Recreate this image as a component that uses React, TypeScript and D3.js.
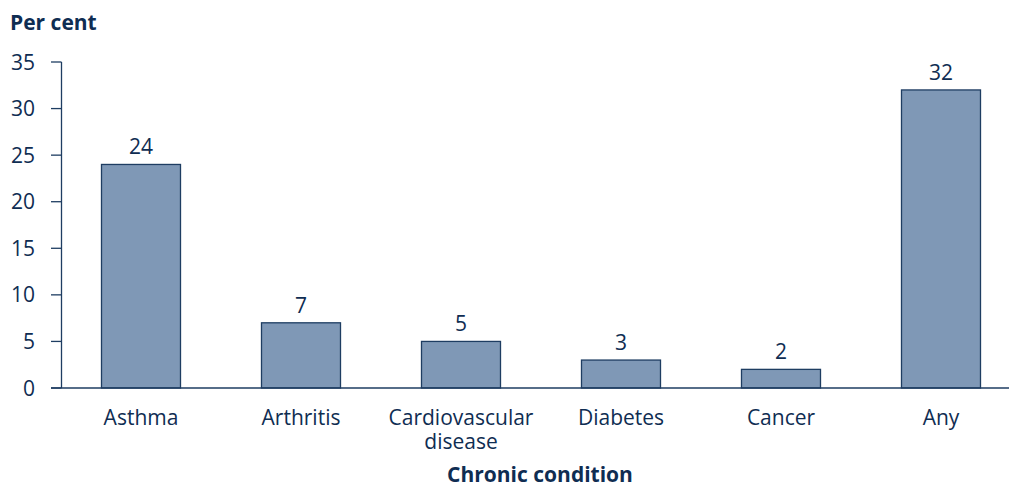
import React from "react";
import * as d3 from "d3";

const categories = ["Asthma", "Arthritis", "Cardiovascular\ndisease", "Diabetes", "Cancer", "Any"];
const values = [24, 7, 5, 3, 2, 32];
const yTicks = [0, 5, 10, 15, 20, 25, 30, 35];

const W = 1009;
const H = 487;
const textColor = "#0f2d52";
const font = "'Open Sans', 'Noto Sans', sans-serif";

export default function App() {
  const x = d3.scaleBand<string>().domain(categories).range([61, 1021]).paddingInner(0.5).paddingOuter(0.25);
  const y = d3.scaleLinear().domain([0, 35]).range([388, 62]);
  return (
    <svg width={W} height={H} style={{ position: "absolute", left: 0, top: 0, background: "#fff" }} fontFamily={font}>
      <text x={10} y={30} fontSize={21} fontWeight="bold" fill={textColor}>Per cent</text>
      {categories.map((c, i) => {
        const cx = x(c)! + x.bandwidth() / 2;
        return (
          <g key={c}>
            <rect x={x(c)! + 0.5} y={y(values[i])} width={x.bandwidth() - 1} height={y(0) - y(values[i])}
              fill="#7f98b6" stroke="#1e3d62" strokeWidth={1.3} />
            <text x={cx} y={y(values[i]) - 10} textAnchor="middle" fontSize={21} fill={textColor}>{values[i]}</text>
            <text x={cx} y={425} textAnchor="middle" fontSize={21} fill={textColor}>
              {c.split("\n").map((line, j) => (
                <tspan key={j} x={cx} dy={j === 0 ? 0 : 24}>{line}</tspan>
              ))}
            </text>
          </g>
        );
      })}
      <line x1={61.5} x2={61.5} y1={62} y2={388} stroke="#1e3d62" strokeWidth={1.3} />
      <line x1={51} x2={W} y1={388} y2={388} stroke="#1e3d62" strokeWidth={1.3} />
      {yTicks.map((t) => (
        <g key={t}>
          <line x1={51} x2={61.5} y1={y(t)} y2={y(t)} stroke="#1e3d62" strokeWidth={1.3} />
          <text x={35} y={y(t) + 7.5} textAnchor="end" fontSize={21} fill={textColor}>{t}</text>
        </g>
      ))}
      <text x={540} y={482} textAnchor="middle" fontSize={21} fontWeight="bold" fill={textColor}>Chronic condition</text>
    </svg>
  );
}
